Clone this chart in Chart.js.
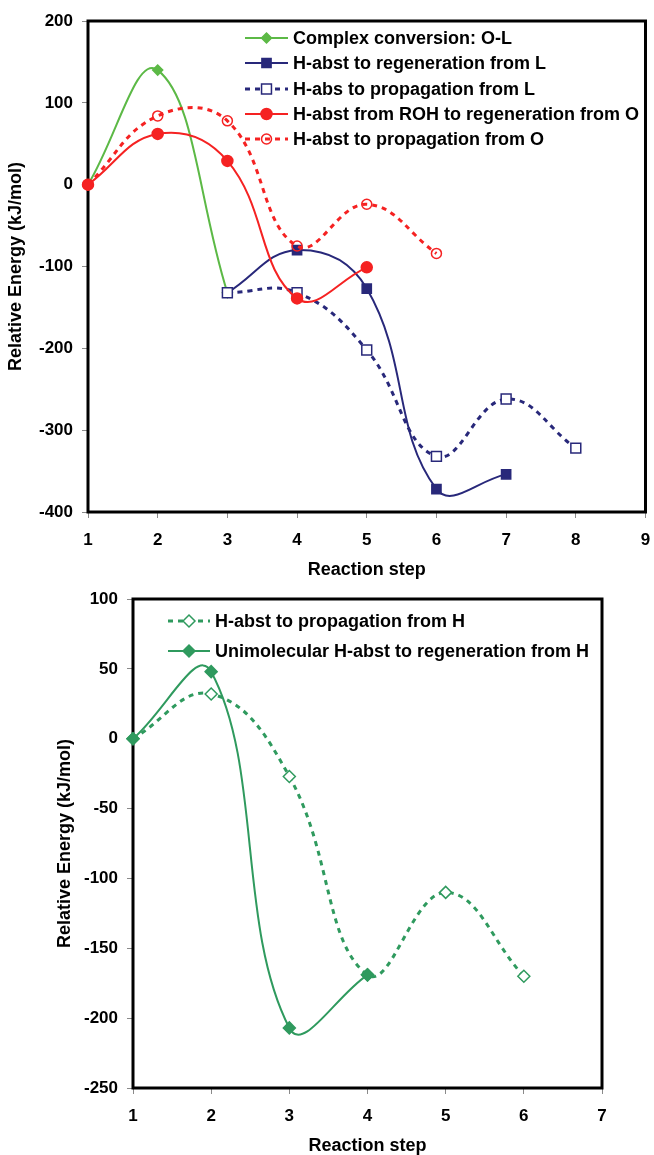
<!DOCTYPE html>
<html>
<head>
<meta charset="utf-8">
<script src="https://cdn.jsdelivr.net/npm/chart.js@4.4.1/dist/chart.umd.min.js"></script>
<style>
  html, body { margin: 0; padding: 0; background: #fff; }
  canvas { position: absolute; left: 0; }
  #topChart { top: 0; }
  #bottomChart { top: 585px; }
</style>
</head>
<body>
<canvas id="topChart" width="654" height="585"></canvas>
<canvas id="bottomChart" width="654" height="570"></canvas>
<script>
// ---- top chart data (reaction steps and relative energies, kJ/mol)
var olSteps = [1, 2, 3];
var olEnergy = [0, 140, -132];

var regenLSteps = [3, 4, 5, 6, 7];
var regenLEnergy = [-132, -80, -127, -372, -354];

var propLSteps = [3, 4, 5, 6, 7, 8];
var propLEnergy = [-132, -132, -202, -332, -262, -322];

var regenOSteps = [1, 2, 3, 4, 5];
var regenOEnergy = [0, 62, 29, -139, -101];

var propOSteps = [1, 2, 3, 4, 5, 6];
var propOEnergy = [0, 84, 78, -75, -24, -84];

// ---- bottom chart data
var propHSteps = [1, 2, 3, 4, 5, 6];
var propHEnergy = [0, 32, -27, -169, -110, -170];

var uniHSteps = [1, 2, 3, 4];
var uniHEnergy = [0, 48, -207, -169];

var LIGHT_GREEN = '#5cb946';
var NAVY = '#28287a';
var RED = '#f52222';
var SEA_GREEN = '#2f9a5e';

var FONT = 'Liberation Sans, Arial, Helvetica, sans-serif';

function pts(xs, ys) {
    return xs.map(function (x, i) { return { x: x, y: ys[i] }; });
}

// black frame round the plot area, drawn under the lines
var framePlugin = {
    id: 'frame',
    beforeDatasetsDraw: function (chart) {
        var a = chart.chartArea;
        var ctx = chart.ctx;
        ctx.save();
        ctx.strokeStyle = '#000';
        ctx.lineWidth = 3;
        ctx.strokeRect(a.left, a.top, a.right - a.left, a.bottom - a.top);
        ctx.restore();
    }
};

// legend inside the plot: line sample + marker + bold label per row
var legendPlugin = {
    id: 'boxLegend',
    afterDraw: function (chart, args, opts) {
        var ctx = chart.ctx;
        ctx.save();
        opts.items.forEach(function (idx, row) {
            var ds = chart.data.datasets[idx];
            var y = opts.rows[row];
            ctx.strokeStyle = ds.borderColor;
            ctx.lineWidth = ds.borderWidth;
            ctx.setLineDash(ds.borderDash || []);
            ctx.beginPath();
            ctx.moveTo(opts.x0, y);
            ctx.lineTo(opts.x1, y);
            ctx.stroke();
            ctx.setLineDash([]);
            ctx.fillStyle = ds.pointBackgroundColor;
            ctx.strokeStyle = ds.pointBorderColor;
            ctx.lineWidth = ds.pointBorderWidth;
            var r = Array.isArray(ds.pointRadius) ? ds.pointRadius[ds.pointRadius.length - 1] : ds.pointRadius;
            Chart.helpers.drawPoint(ctx, {
                pointStyle: ds.pointStyle, radius: r, rotation: 0, borderWidth: ds.pointBorderWidth
            }, (opts.x0 + opts.x1) / 2, y);
            ctx.fillStyle = '#000';
            ctx.font = 'bold 18px ' + FONT;
            ctx.textBaseline = 'middle';
            ctx.textAlign = 'left';
            ctx.fillText(ds.label, opts.textX, y + 1);
        });
        ctx.restore();
    }
};

function makeScales(xMax, yMin, yMax, yStep, xHeight, yWidth, yTitlePad, xTitlePad) {
    var tickFont = { family: FONT, size: 17, weight: 'bold' };
    var titleFont = { family: FONT, size: 18, weight: 'bold', lineHeight: 1.2 };
    return {
        x: {
            type: 'linear', min: 1, max: xMax,
            ticks: { stepSize: 1, font: tickFont, color: '#000', padding: 12, maxRotation: 0 },
            grid: { drawOnChartArea: false, drawTicks: true, tickLength: 6, color: '#8a8a8a' },
            border: { display: false },
            title: { display: true, text: 'Reaction step', font: titleFont, color: '#000', padding: xTitlePad },
            afterFit: function (s) {
                s.height = xHeight;
                s.paddingLeft = 0;
                s.paddingRight = 0;
            }
        },
        y: {
            type: 'linear', min: yMin, max: yMax,
            ticks: { stepSize: yStep, font: tickFont, color: '#000', padding: 9 },
            grid: { drawOnChartArea: false, drawTicks: true, tickLength: 6, color: '#8a8a8a' },
            border: { display: false },
            title: { display: true, text: 'Relative Energy (kJ/mol)', font: titleFont, color: '#000', padding: yTitlePad },
            afterFit: function (s) {
                s.width = yWidth;
                s.paddingTop = 0;
                s.paddingBottom = 0;
            }
        }
    };
}

function lineSet(label, data, color, opts) {
    return Object.assign({
        label: label,
        data: data,
        borderColor: color,
        borderWidth: 2,
        tension: 0.42,
        fill: false,
        clip: false,
        pointBorderColor: color,
        pointBackgroundColor: color,
        pointBorderWidth: 1.5
    }, opts);
}

new Chart(document.getElementById('topChart'), {
    type: 'line',
    data: {
        datasets: [
            lineSet('Complex conversion: O-L', pts(olSteps, olEnergy), LIGHT_GREEN,
                { pointStyle: 'rectRot', pointRadius: 5, order: 4 }),
            lineSet('H-abst to regeneration from L', pts(regenLSteps, regenLEnergy), NAVY,
                { pointStyle: 'rect', pointRadius: [0, 6.5, 6.5, 6.5, 6.5], order: 3 }),
            lineSet('H-abs to propagation from L', pts(propLSteps, propLEnergy), NAVY,
                { borderWidth: 3, borderDash: [5, 5], pointStyle: 'rect', pointRadius: 7,
                  pointBackgroundColor: '#fff', order: 2 }),
            lineSet('H-abst from ROH to regeneration from O', pts(regenOSteps, regenOEnergy), RED,
                { pointStyle: 'circle', pointRadius: 5.5, order: 1 }),
            lineSet('H-abst to propagation from O', pts(propOSteps, propOEnergy), RED,
                { borderWidth: 3, borderDash: [5, 5], pointStyle: 'circle', pointRadius: 5,
                  pointBackgroundColor: 'rgba(255,255,255,0)', order: 0 })
        ]
    },
    options: {
        responsive: false,
        animation: false,
        devicePixelRatio: 1,
        layout: { padding: { top: 21, right: 5, left: 0, bottom: 0 } },
        scales: makeScales(9, -400, 200, 100, 73, 88, { top: 5, bottom: 0 }, { top: 0, bottom: 4 }),
        plugins: {
            legend: { display: false },
            tooltip: { enabled: false },
            boxLegend: { items: [0, 1, 2, 3, 4], rows: [38, 63, 89, 114, 139], x0: 245, x1: 288, textX: 293 }
        }
    },
    plugins: [framePlugin, legendPlugin]
});

new Chart(document.getElementById('bottomChart'), {
    type: 'line',
    data: {
        datasets: [
            lineSet('H-abst to propagation from H', pts(propHSteps, propHEnergy), SEA_GREEN,
                { borderWidth: 3, borderDash: [5, 5], pointStyle: 'rectRot', pointRadius: 6,
                  pointBackgroundColor: '#fff', order: 1 }),
            lineSet('Unimolecular H-abst to regeneration from H', pts(uniHSteps, uniHEnergy), SEA_GREEN,
                { pointStyle: 'rectRot', pointRadius: 6, order: 0 })
        ]
    },
    options: {
        responsive: false,
        animation: false,
        devicePixelRatio: 1,
        layout: { padding: { top: 14, right: 52, left: 0, bottom: 0 } },
        scales: makeScales(7, -250, 100, 50, 67, 133, { top: 54, bottom: 0 }, { top: 0, bottom: -2 }),
        plugins: {
            legend: { display: false },
            tooltip: { enabled: false },
            boxLegend: { items: [0, 1], rows: [36, 66], x0: 168, x1: 210, textX: 215 }
        }
    },
    plugins: [framePlugin, legendPlugin]
});
</script>
</body>
</html>
